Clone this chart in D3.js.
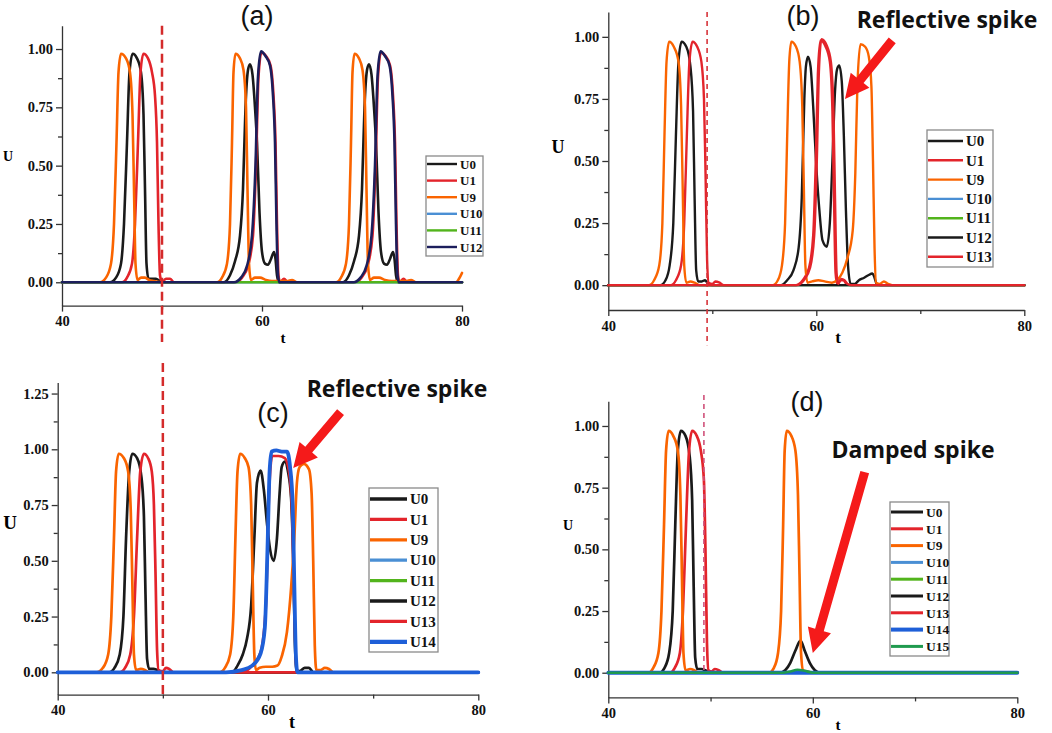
<!DOCTYPE html>
<html><head><meta charset="utf-8">
<script src="https://cdn.jsdelivr.net/npm/d3@7/dist/d3.min.js"></script>
<style>body{margin:0;background:#fff}svg{display:block}</style>
</head><body>
<svg id="chart" width="1052" height="733"></svg>
<script>
// ---------- DATA (t, U) ----------
const xTicks = [40, 60, 80];
const xMinorTicks = [50, 70];
const yTicksStd = [0, 0.25, 0.5, 0.75, 1.0];
const yTicksC = [0, 0.25, 0.5, 0.75, 1.0, 1.25];
const zeroLine = [[40,0],[80,0]];

// panel (a)
const a_U0 = [[40,0],[44.8,0],[45.4,0.02],[45.9,0.08],[46.2,0.25],[46.5,0.6],[46.75,0.9],[47.07,0.98],[47.5,0.96],[47.9,0.9],[48.15,0.72],[48.3,0.4],[48.45,0.08],[48.65,0.015],[49.0,0.015],[49.4,0.015],[49.8,0.005],[50.3,0],
 [56.2,0],[56.8,0.03],[57.3,0.09],[57.8,0.2],[58.1,0.4],[58.35,0.75],[58.6,0.91],[58.8,0.935],[59.05,0.89],[59.3,0.75],[59.5,0.6],[59.75,0.3],[60.0,0.13],[60.3,0.08],[60.6,0.075],[60.9,0.1],[61.2,0.13],[61.35,0.1],[61.5,0.03],[61.7,0],
 [68.1,0],[68.7,0.03],[69.2,0.09],[69.7,0.2],[70.0,0.4],[70.25,0.75],[70.5,0.91],[70.7,0.935],[70.95,0.89],[71.2,0.75],[71.4,0.6],[71.65,0.3],[71.9,0.13],[72.2,0.08],[72.5,0.075],[72.8,0.1],[73.1,0.13],[73.25,0.1],[73.4,0.03],[73.6,0],[80,0]];
const a_U1 = [[40,0],[46.0,0],[46.5,0.02],[47.0,0.08],[47.3,0.25],[47.6,0.6],[47.85,0.9],[48.15,0.98],[48.6,0.96],[49.0,0.9],[49.3,0.8],[49.5,0.6],[49.65,0.25],[49.8,0.03],[50.0,0],[50.4,0.015],[50.8,0.015],[51.2,0],
 [57.3,0],[58.0,0.02],[58.6,0.07],[59.1,0.2],[59.4,0.5],[59.65,0.88],[59.95,0.985],[60.4,0.97],[60.85,0.93],[61.15,0.8],[61.35,0.6],[61.5,0.25],[61.65,0.03],[61.8,0],[62.2,0.015],[62.6,0],
 [69.25,0],[69.95,0.02],[70.55,0.07],[71.05,0.2],[71.35,0.5],[71.6,0.88],[71.9,0.985],[72.35,0.97],[72.8,0.93],[73.1,0.8],[73.3,0.6],[73.45,0.25],[73.6,0.03],[73.75,0],[74.15,0.015],[74.55,0],[80,0]];
const a_U9 = [[40,0],[43.8,0],[44.4,0.02],[44.9,0.08],[45.2,0.25],[45.45,0.6],[45.65,0.9],[45.9,0.98],[46.4,0.96],[46.8,0.9],[47.05,0.72],[47.2,0.4],[47.35,0.08],[47.55,0.01],[47.9,0.02],[48.3,0.02],[48.7,0.01],[49.2,0.005],[50,0],
 [55.5,0],[56.0,0.02],[56.5,0.08],[56.8,0.25],[57.0,0.6],[57.15,0.9],[57.35,0.98],[57.8,0.96],[58.15,0.91],[58.4,0.75],[58.55,0.4],[58.7,0.08],[58.9,0.01],[59.3,0.02],[59.8,0.02],[60.4,0.01],[61,0.005],[62.5,0.005],[63,0.01],[63.5,0],
 [67.4,0],[67.9,0.02],[68.4,0.08],[68.7,0.25],[68.9,0.6],[69.05,0.9],[69.25,0.98],[69.7,0.96],[70.05,0.91],[70.3,0.75],[70.45,0.4],[70.6,0.08],[70.8,0.01],[71.2,0.02],[71.7,0.02],[72.3,0.01],[73,0.005],[74.4,0.005],[74.9,0.01],[75.4,0],[79.4,0],[79.7,0.015],[80,0.04]];
const a_U12 = [[40,0],[57.2,0],[57.9,0.02],[58.5,0.07],[59.0,0.2],[59.35,0.5],[59.6,0.88],[59.9,0.99],[60.35,0.97],[60.8,0.93],[61.1,0.8],[61.3,0.6],[61.45,0.25],[61.6,0.03],[61.75,0],
 [69.15,0],[69.85,0.02],[70.45,0.07],[70.95,0.2],[71.3,0.5],[71.55,0.88],[71.85,0.99],[72.3,0.97],[72.75,0.93],[73.05,0.8],[73.25,0.6],[73.4,0.25],[73.55,0.03],[73.7,0],[80,0]];

// panel (b)
const b_U0 = [[40,0],[45.0,0],[45.5,0.02],[45.9,0.08],[46.25,0.25],[46.5,0.6],[46.75,0.9],[47.05,0.98],[47.5,0.96],[47.9,0.88],[48.15,0.7],[48.3,0.35],[48.45,0.06],[48.65,0.015],[49.0,0.015],[49.3,0.02],[49.6,0.005],[50,0],
 [56.6,0],[57.2,0.02],[57.8,0.06],[58.3,0.15],[58.6,0.35],[58.85,0.75],[59.0,0.88],[59.2,0.92],[59.45,0.88],[59.7,0.72],[60.0,0.48],[60.3,0.3],[60.6,0.18],[61.0,0.155],[61.3,0.25],[61.55,0.5],[61.8,0.78],[62.0,0.87],[62.2,0.885],[62.45,0.82],[62.65,0.6],[62.85,0.3],[63.05,0.08],[63.3,0.005],[63.7,0.005],[64.1,0.02],[64.6,0.03],[65.0,0.04],[65.4,0.047],[65.6,0.03],[65.8,0.005],[66.2,0],[80,0]];
const b_U1 = [[40,0],[46.0,0],[46.5,0.02],[47.0,0.08],[47.3,0.25],[47.55,0.6],[47.8,0.9],[48.1,0.98],[48.55,0.96],[48.95,0.9],[49.2,0.75],[49.35,0.45],[49.5,0.1],[49.65,0.01],[50.0,0.005],[50.3,0.015],[50.7,0.01],[51.1,0],
 [58.0,0],[58.7,0.02],[59.3,0.07],[59.7,0.2],[59.95,0.5],[60.15,0.85],[60.4,0.985],[60.9,0.96],[61.3,0.9],[61.55,0.7],[61.7,0.35],[61.85,0.05],[62.0,0.005],[62.3,0.02],[62.6,0.02],[62.9,0.005],[63.3,0],[80,0]];
const b_U9 = [[40,0],[43.9,0],[44.4,0.02],[44.9,0.08],[45.2,0.25],[45.4,0.6],[45.6,0.9],[45.85,0.98],[46.3,0.96],[46.75,0.9],[47.0,0.72],[47.15,0.4],[47.3,0.08],[47.5,0.01],[47.9,0.015],[48.3,0.01],[48.8,0],
 [55.8,0],[56.3,0.02],[56.7,0.08],[57.0,0.25],[57.2,0.6],[57.4,0.9],[57.6,0.98],[58.05,0.96],[58.4,0.9],[58.65,0.72],[58.8,0.4],[58.95,0.08],[59.15,0.01],[59.6,0.015],[60.2,0.02],[60.8,0.015],[61.5,0.01],[62.0,0.02],[62.5,0.05],[63.0,0.11],[63.5,0.22],[63.75,0.45],[63.95,0.8],[64.25,0.97],[64.7,0.96],[65.05,0.92],[65.3,0.8],[65.45,0.5],[65.6,0.15],[65.75,0.01],[66.1,0.005],[66.5,0.015],[66.9,0.005],[67.3,0],[80,0]];
const b_U13 = [[40,0],[58.1,0],[58.8,0.02],[59.4,0.07],[59.8,0.2],[60.05,0.5],[60.25,0.86],[60.5,0.99],[61.0,0.965],[61.4,0.9],[61.65,0.7],[61.8,0.35],[61.95,0.05],[62.1,0.005],[62.4,0.025],[62.7,0.02],[63.0,0.005],[63.4,0],[80,0]];

// panel (c)
const c_U0 = [[40,0],[44.9,0],[45.4,0.02],[45.9,0.08],[46.25,0.25],[46.5,0.6],[46.8,0.9],[47.1,0.98],[47.55,0.96],[47.95,0.88],[48.2,0.7],[48.35,0.35],[48.5,0.06],[48.7,0.015],[49.1,0.015],[49.5,0.01],[50,0],
 [56.6,0],[57.1,0.03],[57.6,0.08],[58.0,0.15],[58.4,0.3],[58.7,0.6],[58.95,0.85],[59.3,0.905],[59.6,0.82],[59.9,0.67],[60.2,0.55],[60.55,0.5],[60.85,0.6],[61.1,0.8],[61.3,0.92],[61.6,0.945],[61.9,0.9],[62.2,0.78],[62.4,0.5],[62.55,0.15],[62.7,0.01],[63.0,0.005],[63.5,0.02],[63.9,0.02],[64.3,0],[80,0]];
const c_U1 = [[40,0],[45.9,0],[46.4,0.02],[46.9,0.08],[47.25,0.25],[47.55,0.6],[47.85,0.9],[48.2,0.98],[48.6,0.96],[48.95,0.9],[49.15,0.75],[49.3,0.45],[49.45,0.1],[49.6,0.01],[50.0,0.005],[50.3,0.02],[50.6,0.015],[51,0],
 [57.5,0],[58.5,0.03],[59.3,0.09],[59.8,0.3],[60.1,0.8],[60.4,0.97],[61.0,0.97],[61.6,0.96],[62.0,0.9],[62.3,0.7],[62.5,0.3],[62.7,0.02],[62.9,0],[80,0]];
const c_U9 = [[40,0],[43.7,0],[44.3,0.02],[44.8,0.08],[45.1,0.25],[45.35,0.6],[45.55,0.9],[45.8,0.98],[46.3,0.96],[46.7,0.9],[46.95,0.72],[47.1,0.4],[47.25,0.08],[47.45,0.01],[47.9,0.015],[48.3,0.01],[48.7,0],
 [55.4,0],[55.9,0.02],[56.4,0.08],[56.7,0.25],[56.9,0.6],[57.1,0.9],[57.35,0.98],[57.8,0.96],[58.15,0.92],[58.4,0.75],[58.55,0.4],[58.7,0.08],[58.85,0.01],[59.2,0.02],[59.8,0.025],[60.4,0.025],[60.9,0.03],[61.3,0.07],[61.8,0.18],[62.2,0.38],[62.5,0.6],[62.75,0.85],[63.0,0.92],[63.4,0.935],[63.9,0.91],[64.15,0.8],[64.3,0.5],[64.45,0.12],[64.6,0.01],[65.0,0.01],[65.4,0.02],[65.8,0.015],[66.2,0],[80,0]];
const c_U14 = [[40,0],[56.0,0],[57.5,0.01],[58.5,0.03],[59.3,0.085],[59.7,0.2],[59.95,0.55],[60.15,0.9],[60.35,0.99],[60.8,0.995],[61.3,0.99],[61.8,0.99],[62.1,0.92],[62.35,0.75],[62.5,0.4],[62.65,0.08],[62.8,0],[80,0]];

// panel (d)
const d_U0 = [[40,0],[45.0,0],[45.5,0.02],[45.95,0.08],[46.3,0.25],[46.55,0.6],[46.8,0.9],[47.1,0.98],[47.55,0.96],[47.95,0.88],[48.2,0.7],[48.35,0.35],[48.5,0.06],[48.7,0.015],[49.1,0.015],[49.5,0.01],[50,0],
 [56.8,0],[57.3,0.01],[57.8,0.04],[58.3,0.09],[58.8,0.13],[59.2,0.09],[59.7,0.04],[60.2,0.01],[60.7,0],[80,0]];
const d_U1 = [[40,0],[46.0,0],[46.5,0.02],[47.0,0.08],[47.3,0.25],[47.6,0.6],[47.9,0.9],[48.2,0.98],[48.65,0.96],[49.05,0.9],[49.35,0.78],[49.5,0.5],[49.65,0.12],[49.8,0.01],[50.1,0.005],[50.4,0.015],[50.8,0.01],[51.2,0],[80,0]];
const d_U9 = [[40,0],[43.9,0],[44.4,0.02],[44.9,0.08],[45.2,0.25],[45.45,0.6],[45.65,0.9],[45.9,0.98],[46.35,0.96],[46.8,0.9],[47.05,0.72],[47.2,0.4],[47.35,0.08],[47.55,0.01],[48.0,0.015],[48.4,0.01],[48.8,0],
 [55.7,0],[56.2,0.02],[56.6,0.08],[56.9,0.25],[57.1,0.6],[57.25,0.9],[57.45,0.98],[57.9,0.96],[58.3,0.9],[58.55,0.72],[58.7,0.4],[58.85,0.08],[59.05,0.01],[59.4,0.005],[60,0],[80,0]];
const d_U15 = [[40,0],[57.0,0],[57.8,0.005],[58.5,0.012],[59.2,0.008],[60,0],[80,0]];

// marker lines (t) and annotations (t, U)
const markerT = {a: 50, b: 49.5, c: 50, d: 49.35};
const arrowB = [[67.3, 0.986], [62.76, 0.75]];
const arrowC = [[66.9, 1.167], [62.4, 0.916]];
const arrowD = [[65.08, 0.813], [60.0, 0.08]];

// ---------- STYLE / LAYOUT ----------
const col = {black:"#1a1a1a", red:"#e3242b", orange:"#fa6400", lblue:"#4a8fd4", lgreen:"#52b41c", navy:"#1c1e5c", blue:"#1e5fd8", green:"#1f9a4e"};

const panels = [
 {id:"a", xr:[62,462], yr:[305.6,25.7], yd:[-0.1,1.1], yt:yTicksStd, lw:2.6,
  series:[["U0",a_U0,col.black],["U1",a_U1,col.red],["U9",a_U9,col.orange],["U10",zeroLine,col.lblue],["U11",zeroLine,col.lgreen],["U12",a_U12,col.navy]],
  title:[257,25,"(a)"], U:[8,161,14], t:[283,343,15],
  legend:{x:426,y:156,w:57,h:100,row0:164,dy:16.6,len:31,fs:13,lw:2.4},
  dash:{u:[1.1,-0.256], w:2.5, d:"9,5", c:"#d42b2b"}},
 {id:"b", xr:[608.3,1024.3], yr:[310,12], yd:[-0.1,1.1], yt:yTicksStd, lw:2.4,
  series:[["U0",b_U0,col.black],["U1",b_U1,col.red],["U9",b_U9,col.orange],["U10",zeroLine,col.lblue],["U11",zeroLine,col.lgreen],["U12",zeroLine,col.black],["U13",b_U13,col.red]],
  title:[803,25,"(b)"], U:[558,153,18], t:[838,343,17],
  legend:{x:927,y:130,w:66,h:137,row0:141,dy:19.3,len:36,fs:15,lw:2.4},
  dash:{u:[1.1,-0.242], w:1.6, d:"5,4", c:"#d6333a"},
  note:{text:"Reflective spike", x:947, y:28, arrow:arrowB}},
 {id:"c", xr:[57.7,478.3], yr:[694.6,382.4], yd:[-0.1,1.3], yt:yTicksC, lw:2.7,
  series:[["U0",c_U0,col.black],["U1",c_U1,col.red],["U9",c_U9,col.orange],["U10",zeroLine,col.lblue],["U11",zeroLine,col.lgreen],["U12",zeroLine,col.black],["U13",zeroLine,col.red],["U14",c_U14,col.blue]],
  title:[273,422,"(c)"], U:[10,529,19], t:[292,728,18],
  legend:{x:369,y:488,w:69,h:164,row0:499,dy:20.4,len:38,fs:15,lw:3.3},
  dash:{u:[1.387,-0.102], w:2.5, d:"9,5", c:"#d42b2b"},
  note:{text:"Reflective spike", x:397, y:397, arrow:arrowC}},
 {id:"d", xr:[608.3,1017.3], yr:[697.4,401.3], yd:[-0.1,1.1], yt:yTicksStd, lw:2.7,
  series:[["U0",d_U0,col.black],["U1",d_U1,col.red],["U9",d_U9,col.orange],["U10",zeroLine,col.lblue],["U11",zeroLine,col.lgreen],["U12",zeroLine,col.black],["U13",zeroLine,col.red],["U14",zeroLine,col.blue],["U15",d_U15,col.green]],
  title:[807,411,"(d)"], U:[568,530,14], t:[838,730,15],
  legend:{x:890,y:502,w:59,h:154,row0:512,dy:16.8,len:33,fs:13.5,lw:3},
  dash:{u:[1.126,0], w:1.6, d:"5,4", c:"#d0527a"},
  note:{text:"Damped spike", x:913, y:458, arrow:arrowD}}
];

// ---------- DRAW ----------
const svg = d3.select("#chart");
const serif = "'Liberation Serif','Times New Roman',serif";
const sans = "'Liberation Sans',Arial,sans-serif";

panels.forEach(p => {
  const x = d3.scaleLinear().domain([40,80]).range(p.xr);
  const y = d3.scaleLinear().domain(p.yd).range(p.yr);
  const g = svg.append("g");
  const ya = p.yr[0];

  const yMinor = d3.range(p.yt.length - 1).map(i => (p.yt[i] + p.yt[i+1]) / 2)
    .concat(p.yd[1] > p.yt[p.yt.length-1] + 0.125 ? [p.yt[p.yt.length-1] + 0.125] : []);
  g.append("g").attr("transform",`translate(0,${ya})`)
   .call(d3.axisBottom(x).tickValues(xMinorTicks).tickSize(4).tickSizeOuter(0).tickFormat(""))
   .call(s => s.select(".domain").remove());
  g.append("g").attr("transform",`translate(${p.xr[0]},0)`)
   .call(d3.axisLeft(y).tickValues(yMinor).tickSize(4).tickSizeOuter(0).tickFormat(""))
   .call(s => s.select(".domain").remove());

  g.append("g").attr("transform",`translate(0,${ya})`)
   .call(d3.axisBottom(x).tickValues(xTicks).tickSize(6).tickPadding(4.5).tickSizeOuter(0).tickFormat(d3.format("d")));
  g.append("g").attr("transform",`translate(${p.xr[0]},0)`)
   .call(d3.axisLeft(y).tickValues(p.yt).tickSize(6).tickPadding(3).tickSizeOuter(0).tickFormat(d3.format(".2f")));
  g.selectAll(".tick text").attr("font-family", serif).attr("font-weight","bold").attr("font-size",14.5).attr("fill","#111");
  g.selectAll(".domain, .tick line").attr("stroke","#333").attr("stroke-width",1.3);

  g.append("text").attr("x",p.U[0]).attr("y",p.U[1]).attr("text-anchor","middle")
   .attr("font-family",serif).attr("font-weight","bold").attr("font-size",p.U[2]).text("U");
  g.append("text").attr("x",p.t[0]).attr("y",p.t[1]).attr("text-anchor","middle")
   .attr("font-family",serif).attr("font-weight","bold").attr("font-size",p.t[2]).text("t");

  const line = d3.line().x(d => x(d[0])).y(d => y(d[1])).curve(d3.curveMonotoneX);
  p.series.forEach(s => {
    g.append("path").datum(s[1]).attr("d", line).attr("fill","none")
     .attr("stroke", s[2]).attr("stroke-width", s[0] === "U14" ? 3.8 : p.lw)
     .attr("stroke-linejoin","round").attr("stroke-linecap","round");
  });

  g.append("line").attr("x1",x(markerT[p.id])).attr("x2",x(markerT[p.id]))
   .attr("y1",y(p.dash.u[0])).attr("y2",y(p.dash.u[1]))
   .attr("stroke",p.dash.c).attr("stroke-width",p.dash.w).attr("stroke-dasharray",p.dash.d);

  g.append("text").attr("x",p.title[0]).attr("y",p.title[1]).attr("text-anchor","middle")
   .attr("font-family",sans).attr("font-size",27).attr("fill","#111").text(p.title[2]);

  const L = p.legend;
  const lg = g.append("g");
  lg.append("rect").attr("x",L.x).attr("y",L.y).attr("width",L.w).attr("height",L.h)
   .attr("fill","#fff").attr("stroke","#8a8a8a").attr("stroke-width",1.3);
  p.series.forEach((s,i) => {
    const yy = L.row0 + i*L.dy;
    lg.append("line").attr("x1",L.x+1).attr("x2",L.x+L.len).attr("y1",yy).attr("y2",yy)
      .attr("stroke",s[2]).attr("stroke-width", s[0]==="U14" ? L.lw+1 : L.lw);
    lg.append("text").attr("x",L.x+L.len+3).attr("y",yy).attr("dy","0.35em")
      .attr("font-family",serif).attr("font-weight","bold").attr("font-size",L.fs).attr("fill","#111").text(s[0]);
  });

  if (p.note) {
    g.append("text").attr("x",p.note.x).attr("y",p.note.y).attr("text-anchor","middle")
     .attr("font-family","'Open Sans','Noto Sans',sans-serif").attr("font-weight","bold").attr("font-size",23)
     .attr("fill","#111").text(p.note.text);
    const [t0, t1] = p.note.arrow;
    const x0 = x(t0[0]), y0 = y(t0[1]), x1 = x(t1[0]), y1 = y(t1[1]);
    const dx = x1-x0, dy = y1-y0, len = Math.hypot(dx,dy), ux = dx/len, uy = dy/len, nx = -uy, ny = ux;
    const sw = 4.5, hw = 12, hl = 24;
    const bx = x1 - ux*hl, by = y1 - uy*hl;
    const pts = [[x0+nx*sw,y0+ny*sw],[bx+nx*sw,by+ny*sw],[bx+nx*hw,by+ny*hw],[x1,y1],[bx-nx*hw,by-ny*hw],[bx-nx*sw,by-ny*sw],[x0-nx*sw,y0-ny*sw]];
    g.append("polygon").attr("points", pts.map(q=>q.join(",")).join(" ")).attr("fill","#f51a1a");
  }
});
</script>
</body></html>
